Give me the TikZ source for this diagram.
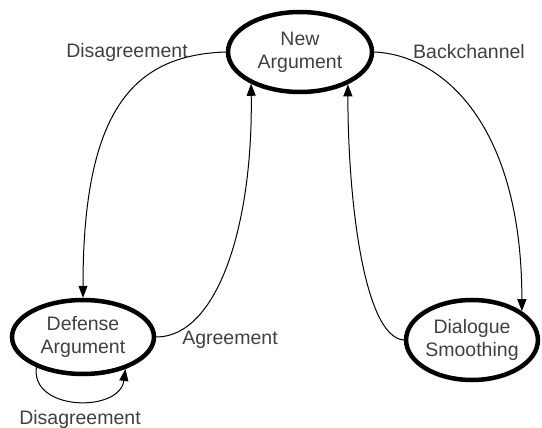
\documentclass[tikz,border=0pt]{standalone}
\usepackage{fontspec}
\setmainfont{Liberation Sans}
\usetikzlibrary{arrows.meta,shapes.geometric}
\definecolor{txtgray}{RGB}{64,64,64}

\begin{document}
\begin{tikzpicture}[x=1pt,y=1pt,yscale=-1,xscale=1,
  state/.style={draw, ellipse, line width=4.5pt, inner sep=0pt, align=center,
    font=\fontsize{19.5}{23}\selectfont, text=txtgray},
  trans/.style={line width=1pt, -{Triangle[length=12pt,width=9pt]}},
  lbl/.style={font=\fontsize{19.5}{23}\selectfont, text=txtgray}]
\useasboundingbox (0,0) rectangle (542,428);

%Shape: Ellipse [states]
\node[state, minimum width=144pt, minimum height=80pt] (newarg) at (300,52) {New\\Argument};
\node[state, minimum width=142pt, minimum height=74pt] (defarg) at (83,337) {Defense\\Argument};
\node[state, minimum width=131pt, minimum height=80pt] (smooth) at (472,340) {Dialogue\\Smoothing};

%Curves [transitions]
\draw[trans] (newarg.west) .. controls +(-93,3) and +(0,-187) .. (defarg.north);
\draw[trans] (defarg.east) .. controls +(60,0) and +(2,145) .. (newarg.213);
\draw[trans] (newarg.east) .. controls +(68,3) and +(0,-187) .. (smooth.30);
\draw[trans] (smooth.west) .. controls +(-40,-3) and +(0,115) .. (newarg.326);
\draw[trans] (defarg.213) .. controls +(-6,44) and +(-6,44) .. (defarg.323);

%Text [labels]
\node[lbl] (disag) at (127,52) {Disagreement};
\node[lbl] (backch) at (469,52) {Backchannel};
\node[lbl] (agree) at (230,340) {Agreement};
\node[lbl] (disagloop) at (80,419) {Disagreement};

\end{tikzpicture}
\end{document}
